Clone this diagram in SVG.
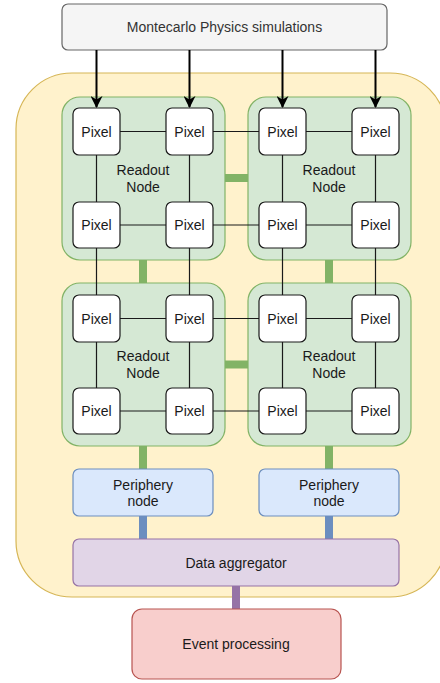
<svg xmlns="http://www.w3.org/2000/svg" width="440" height="683" viewBox="0 0 440 683">
<defs>
<style>
text{font-family:"Liberation Sans",Arial,Helvetica,sans-serif;font-size:14px;fill:#1a1a1a;text-anchor:middle;dominant-baseline:central}
.pix rect{fill:#ffffff;stroke:#1a1a1a;stroke-width:1.2}
.ro{fill:#d5e8d4;stroke:#82b366;stroke-width:1.2}
.thin{stroke:#1a1a1a;stroke-width:1.2;fill:none}
.gthick{stroke:#82b366;stroke-width:8;fill:none}
.bthick{stroke:#6c8ebf;stroke-width:8;fill:none}
.pthick{stroke:#9673a6;stroke-width:8;fill:none}
.arr{stroke:#000;stroke-width:2;fill:none;marker-end:url(#ah)}
</style>
<marker id="ah" markerWidth="12" markerHeight="12" refX="11" refY="6" orient="auto" markerUnits="userSpaceOnUse" viewBox="0 0 12 12">
<path d="M0,0 L12,6 L0,12 L3.5,6 Z" fill="#000"/>
</marker>
</defs>

<g id="container"><rect x="16" y="73" width="430" height="524" rx="56" fill="#fff2cc" stroke="#d6b656" stroke-width="1.2"/></g>

<g id="sim"><rect x="62" y="4" width="325" height="46" rx="6" fill="#f5f5f5" stroke="#666666" stroke-width="1.2"/><text x="224.5" y="27" style="fill:#333333">Montecarlo Physics simulations</text></g>

<g id="readout-tl"><rect class="ro" x="62" y="97" width="163" height="163" rx="18"/><text x="143" y="170">Readout</text><text x="143" y="187">Node</text></g>
<g id="readout-tr"><rect class="ro" x="248" y="97" width="163" height="163" rx="18"/><text x="329" y="170">Readout</text><text x="329" y="187">Node</text></g>
<g id="readout-bl"><rect class="ro" x="62" y="283" width="163" height="163" rx="18"/><text x="143" y="356">Readout</text><text x="143" y="373">Node</text></g>
<g id="readout-br"><rect class="ro" x="248" y="283" width="163" height="163" rx="18"/><text x="329" y="356">Readout</text><text x="329" y="373">Node</text></g>

<g id="connectors">
<path class="thin" d="M120,131.5H166M213,131.5H259M306,131.5H352"/>
<path class="thin" d="M120,225H166M213,225H259M306,225H352"/>
<path class="thin" d="M120,318.5H166M213,318.5H259M306,318.5H352"/>
<path class="thin" d="M120,411H166M213,411H259M306,411H352"/>
<path class="thin" d="M96.5,155V202M96.5,248V295M96.5,342V388"/>
<path class="thin" d="M189.5,155V202M189.5,248V295M189.5,342V388"/>
<path class="thin" d="M282.5,155V202M282.5,248V295M282.5,342V388"/>
<path class="thin" d="M375.5,155V202M375.5,248V295M375.5,342V388"/>
<path class="gthick" d="M225,178H248M225,364.5H248M143,260V283M329,260V283M143,446V469M329,446V469"/>
<path class="bthick" d="M143,516V539M329,516V539"/>
<path class="pthick" d="M236,586V609"/>
<path class="arr" d="M96.5,50V107"/>
<path class="arr" d="M189.5,50V107"/>
<path class="arr" d="M282.5,50V107"/>
<path class="arr" d="M375.5,50V107"/>
</g>

<g id="px-1" class="pix"><rect x="73" y="108" width="47" height="47" rx="6"/><text x="96.5" y="131.5">Pixel</text></g>
<g id="px-2" class="pix"><rect x="166" y="108" width="47" height="47" rx="6"/><text x="189.5" y="131.5">Pixel</text></g>
<g id="px-3" class="pix"><rect x="259" y="108" width="47" height="47" rx="6"/><text x="282.5" y="131.5">Pixel</text></g>
<g id="px-4" class="pix"><rect x="352" y="108" width="47" height="47" rx="6"/><text x="375.5" y="131.5">Pixel</text></g>
<g id="px-5" class="pix"><rect x="73" y="202" width="47" height="46" rx="6"/><text x="96.5" y="225">Pixel</text></g>
<g id="px-6" class="pix"><rect x="166" y="202" width="47" height="46" rx="6"/><text x="189.5" y="225">Pixel</text></g>
<g id="px-7" class="pix"><rect x="259" y="202" width="47" height="46" rx="6"/><text x="282.5" y="225">Pixel</text></g>
<g id="px-8" class="pix"><rect x="352" y="202" width="47" height="46" rx="6"/><text x="375.5" y="225">Pixel</text></g>
<g id="px-9" class="pix"><rect x="73" y="295" width="47" height="47" rx="6"/><text x="96.5" y="318.5">Pixel</text></g>
<g id="px-10" class="pix"><rect x="166" y="295" width="47" height="47" rx="6"/><text x="189.5" y="318.5">Pixel</text></g>
<g id="px-11" class="pix"><rect x="259" y="295" width="47" height="47" rx="6"/><text x="282.5" y="318.5">Pixel</text></g>
<g id="px-12" class="pix"><rect x="352" y="295" width="47" height="47" rx="6"/><text x="375.5" y="318.5">Pixel</text></g>
<g id="px-13" class="pix"><rect x="73" y="388" width="47" height="46" rx="6"/><text x="96.5" y="411">Pixel</text></g>
<g id="px-14" class="pix"><rect x="166" y="388" width="47" height="46" rx="6"/><text x="189.5" y="411">Pixel</text></g>
<g id="px-15" class="pix"><rect x="259" y="388" width="47" height="46" rx="6"/><text x="282.5" y="411">Pixel</text></g>
<g id="px-16" class="pix"><rect x="352" y="388" width="47" height="46" rx="6"/><text x="375.5" y="411">Pixel</text></g>

<g id="periph-l"><rect x="73" y="469" width="140" height="47" rx="6" fill="#dae8fc" stroke="#6c8ebf" stroke-width="1.2"/><text x="143" y="484.5">Periphery</text><text x="143" y="501">node</text></g>
<g id="periph-r"><rect x="259" y="469" width="140" height="47" rx="6" fill="#dae8fc" stroke="#6c8ebf" stroke-width="1.2"/><text x="329" y="484.5">Periphery</text><text x="329" y="501">node</text></g>

<g id="aggregator"><rect x="73" y="539" width="326" height="47" rx="6" fill="#e1d5e7" stroke="#9673a6" stroke-width="1.2"/><text x="236" y="562.5">Data aggregator</text></g>

<g id="event"><rect x="132" y="609" width="209" height="70" rx="10" fill="#f8cecc" stroke="#b85450" stroke-width="1.2"/><text x="236" y="643.5">Event processing</text></g>
</svg>
